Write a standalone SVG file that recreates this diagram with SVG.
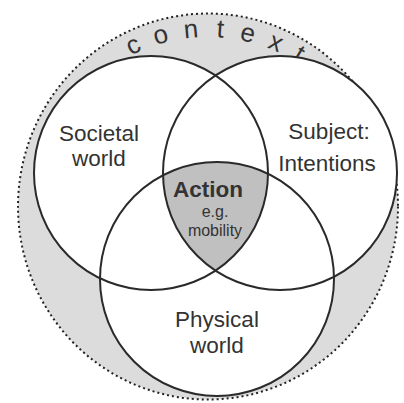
<svg xmlns="http://www.w3.org/2000/svg" width="404" height="403" viewBox="0 0 404 403">
<style>
.lbl{font-family:"Liberation Sans",Arial,sans-serif;fill:#333;text-anchor:middle}
.big{font-size:22.5px}
.sm{font-size:16px}
.ctx{font-family:"Liberation Sans",Arial,sans-serif;font-size:26px;fill:#333;text-anchor:middle}
.ring{fill:none;stroke:#2a2a2a;stroke-width:2}
.wfill{fill:#fff;stroke:none}
</style>
<rect width="404" height="403" fill="#fff"/>
<g id="context">
<ellipse cx="208" cy="206.5" rx="190" ry="193" fill="#dcdcdc" stroke="#222" stroke-width="2" stroke-dasharray="2 3"/>
<g>
<text class="ctx" x="208" y="37" transform="rotate(-25 208 206)">c</text>
<text class="ctx" x="208" y="37" transform="rotate(-15.5 208 206)">o</text>
<text class="ctx" x="208" y="37" transform="rotate(-5.5 208 206)">n</text>
<text class="ctx" x="208" y="37" transform="rotate(4 208 206)">t</text>
<text class="ctx" x="208" y="37" transform="rotate(13 208 206)">e</text>
<text class="ctx" x="208" y="37" transform="rotate(22.5 208 206)">x</text>
<text class="ctx" x="208" y="37" transform="rotate(31 208 206)">t</text>
</g>
</g>
<g id="fills">
<circle class="wfill" cx="151" cy="173" r="117"/>
<circle class="wfill" cx="280" cy="173" r="117"/>
<circle class="wfill" cx="217" cy="279" r="117"/>
</g>
<g id="action">
<path d="M163,175.2 A117,117 0 0 1 268,173.7 A117,117 0 0 1 215.5,270.6 A117,117 0 0 1 163,175.2 Z" fill="#c0c0c0" stroke="none"/>
<text class="lbl" x="208" y="197" font-size="22.5" font-weight="bold">Action</text>
<text class="lbl sm" x="215" y="217">e.g.</text>
<text class="lbl sm" x="215" y="236">mobility</text>
</g>
<g id="connectors"></g>
<g id="societal">
<circle class="ring" cx="151" cy="173" r="117"/>
<text class="lbl big" x="99" y="141">Societal</text>
<text class="lbl big" x="99" y="166">world</text>
</g>
<g id="subject">
<circle class="ring" cx="280" cy="173" r="117"/>
<text class="lbl big" x="329" y="139">Subject:</text>
<text class="lbl big" x="327" y="171">Intentions</text>
</g>
<g id="physical">
<circle class="ring" cx="217" cy="279" r="117"/>
<text class="lbl big" x="217" y="327">Physical</text>
<text class="lbl big" x="217" y="353">world</text>
</g>
</svg>
